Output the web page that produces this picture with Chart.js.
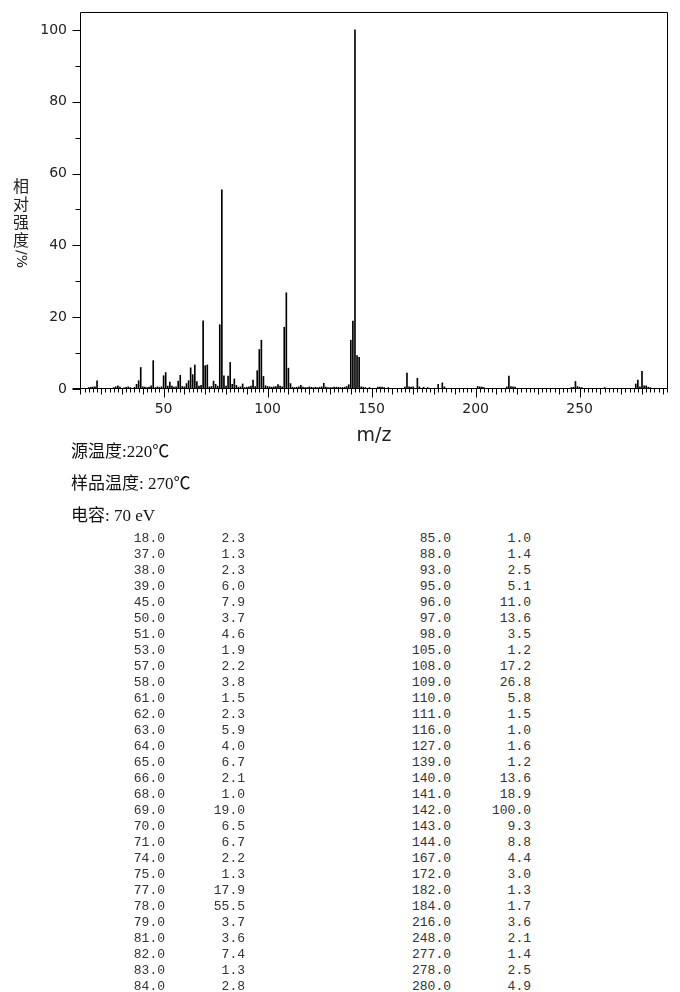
<!DOCTYPE html>
<html>
<head>
<meta charset="utf-8">
<script src="https://cdn.jsdelivr.net/npm/chart.js@4/dist/chart.umd.min.js"></script>
<style>
  html,body{margin:0;padding:0;background:#fff;}
  body{width:680px;height:992px;position:relative;overflow:hidden;}
  #c{position:absolute;left:0;top:0;}
  .cond{position:absolute;left:71px;font-family:"Liberation Serif","Noto Sans CJK SC",serif;font-size:17px;color:#111;line-height:20px;white-space:pre;}
  .cell{position:absolute;font-family:"Liberation Mono",monospace;font-size:13px;color:#333;line-height:16px;text-align:right;white-space:pre;}
</style>
</head>
<body>
<canvas id="c" width="680" height="445"></canvas>
<div id="texts"></div>
<script>
// ---- data ----
const peakMz = [18,37,38,39,45,50,51,53,57,58,61,62,63,64,65,66,68,69,70,71,74,75,77,78,79,81,82,83,84,
                85,88,93,95,96,97,98,105,108,109,110,111,116,127,139,140,141,142,143,144,167,172,182,184,216,248,277,278,280];
const peakInt = [2.3,1.3,2.3,6.0,7.9,3.7,4.6,1.9,2.2,3.8,1.5,2.3,5.9,4.0,6.7,2.1,1.0,19.0,6.5,6.7,2.2,1.3,17.9,55.5,3.7,3.6,7.4,1.3,2.8,
                 1.0,1.4,2.5,5.1,11.0,13.6,3.5,1.2,17.2,26.8,5.8,1.5,1.0,1.6,1.2,13.6,18.9,100.0,9.3,8.8,4.4,3.0,1.3,1.7,3.6,2.1,1.4,2.5,4.9];
// small peaks (< 1 %)
const minorMz = [14,15,16,17,26,27,28,29,31,32,33,34,36,40,41,42,43,44,46,47,48,49,52,54,55,56,59,60,67,72,73,76,80,
                 86,87,89,90,91,92,94,99,100,101,102,103,104,106,107,112,113,114,115,117,118,119,120,121,122,123,124,125,126,
                 128,129,130,131,132,133,134,135,136,137,138,145,146,147,149,153,154,155,156,158,166,168,169,170,173,175,177,185,
                 201,202,203,204,215,217,218,219,246,247,249,250,251,262,279,281,282,283,284];
const minorInt = [0.4,0.5,0.5,0.6,0.4,0.6,0.9,0.5,0.3,0.5,0.6,0.4,0.5,0.6,0.5,0.4,0.5,0.9,0.4,0.6,0.5,0.6,0.8,0.8,0.5,0.6,0.7,0.6,0.8,0.6,0.7,0.8,0.8,
                  0.5,0.6,0.4,0.5,0.6,0.8,0.7,0.9,0.7,0.6,0.5,0.6,0.7,0.8,0.6,0.5,0.4,0.5,0.6,0.5,0.4,0.4,0.6,0.5,0.4,0.5,0.4,0.5,0.6,
                  0.5,0.4,0.4,0.4,0.5,0.5,0.5,0.4,0.4,0.5,0.7,0.6,0.5,0.4,0.4,0.5,0.5,0.5,0.4,0.4,0.5,0.6,0.5,0.6,0.6,0.5,0.4,0.6,
                  0.7,0.6,0.5,0.4,0.6,0.7,0.6,0.5,0.4,0.5,0.7,0.5,0.4,0.4,0.6,0.9,0.9,0.5,0.4];
const xTickLabels = [50,100,150,200,250];
const yTickLabels = [0,20,40,60,80,100];
const conditions = ["源温度:220℃","样品温度: 270℃","电容: 70 eV"];
const xTitle = "m/z";
const yTitleChars = ["相","对","强","度"];
const yTitleTail = "/%";

// ---- chart ----
const points = [];
minorMz.forEach((m,i)=>points.push({x:m,y:minorInt[i]}));
peakMz.forEach((m,i)=>points.push({x:m,y:peakInt[i]}));

const decor = {
  id:'decor',
  afterDraw(chart){
    const ctx = chart.ctx, a = chart.chartArea;
    const xs = chart.scales.x, ys = chart.scales.y;
    ctx.save();
    ctx.strokeStyle = '#000';
    ctx.lineWidth = 1;
    const L = Math.round(a.left)+0.5, R = Math.round(a.right)-0.5, T = Math.round(a.top)+0.5, B = Math.round(a.bottom)-0.5;
    ctx.beginPath();
    ctx.moveTo(L,B); ctx.lineTo(L,T); ctx.lineTo(R,T); ctx.lineTo(R,B);
    ctx.moveTo(L-8,B); ctx.lineTo(R,B);
    // x ticks
    for(let v=10; v<=292; v+=2){
      const px = Math.round(xs.getPixelForValue(v))+0.5;
      const len = v%50===0 ? 9 : (v%10===0 ? 6 : 4);
      ctx.moveTo(px,B); ctx.lineTo(px,B+len);
    }
    // y ticks
    for(let v=0; v<=100; v+=10){
      const py = Math.round(ys.getPixelForValue(v))+0.5;
      const len = v%20===0 ? 8 : 5;
      ctx.moveTo(L,py); ctx.lineTo(L-len,py);
    }
    ctx.stroke();
    // titles
    ctx.fillStyle = '#222';
    ctx.font = '19px "DejaVu Sans"';
    ctx.textAlign = 'center'; ctx.textBaseline = 'middle';
    ctx.fillText(xTitle, (a.left+a.right)/2, 436);
    ctx.font = '16px "Noto Sans CJK SC"';
    yTitleChars.forEach((ch,i)=>ctx.fillText(ch, 21, 186 + i*18));
    ctx.save();
    ctx.translate(21, 259);
    ctx.rotate(Math.PI/2);
    ctx.font = '14px "DejaVu Sans"';
    ctx.fillText(yTitleTail, 0, 0);
    ctx.restore();
    ctx.restore();
  }
};

new Chart(document.getElementById('c'), {
  type:'bar',
  data:{datasets:[{data:points, backgroundColor:'#000', borderWidth:0, barThickness:1}]},
  options:{
    responsive:false, animation:false, events:[],
    layout:{padding:{top:12,right:12,left:0,bottom:0}},
    plugins:{legend:{display:false}, tooltip:{enabled:false}},
    scales:{
      x:{type:'linear', min:9.8, max:292.5, offset:false,
         grid:{display:false, drawTicks:false}, border:{display:false},
         afterBuildTicks:s=>{s.ticks = xTickLabels.map(v=>({value:v}));},
         afterFit:s=>{s.height = 56; s.paddingLeft = 0; s.paddingRight = 0;},
         ticks:{padding:12, color:'#222', font:{family:'"DejaVu Sans"', size:14}, maxRotation:0, autoSkip:false}},
      y:{min:0, max:105,
         grid:{display:false, drawTicks:false}, border:{display:false},
         afterBuildTicks:s=>{s.ticks = yTickLabels.map(v=>({value:v}));},
         afterFit:s=>{s.width = 80; s.paddingTop = 0; s.paddingBottom = 0;},
         ticks:{padding:13, color:'#222', font:{family:'"DejaVu Sans"', size:14}}}
    }
  },
  plugins:[decor]
});

// ---- text below ----
const box = document.getElementById('texts');
conditions.forEach((t,i)=>{
  const d = document.createElement('div');
  d.className='cond'; d.textContent=t; d.style.top=(442+i*32)+'px';
  box.appendChild(d);
});
const half = Math.ceil(peakMz.length/2);
peakMz.forEach((m,i)=>{
  const col = i<half?0:1, row = i<half?i:i-half;
  const top = 531 + row*16;
  const c1 = document.createElement('div');
  c1.className='cell'; c1.textContent=m.toFixed(1);
  c1.style.top=top+'px'; c1.style.left=(col?371:85)+'px'; c1.style.width='80px';
  const c2 = document.createElement('div');
  c2.className='cell'; c2.textContent=peakInt[i].toFixed(1);
  c2.style.top=top+'px'; c2.style.left=(col?451:165)+'px'; c2.style.width='80px';
  box.appendChild(c1); box.appendChild(c2);
});
</script>
</body>
</html>
